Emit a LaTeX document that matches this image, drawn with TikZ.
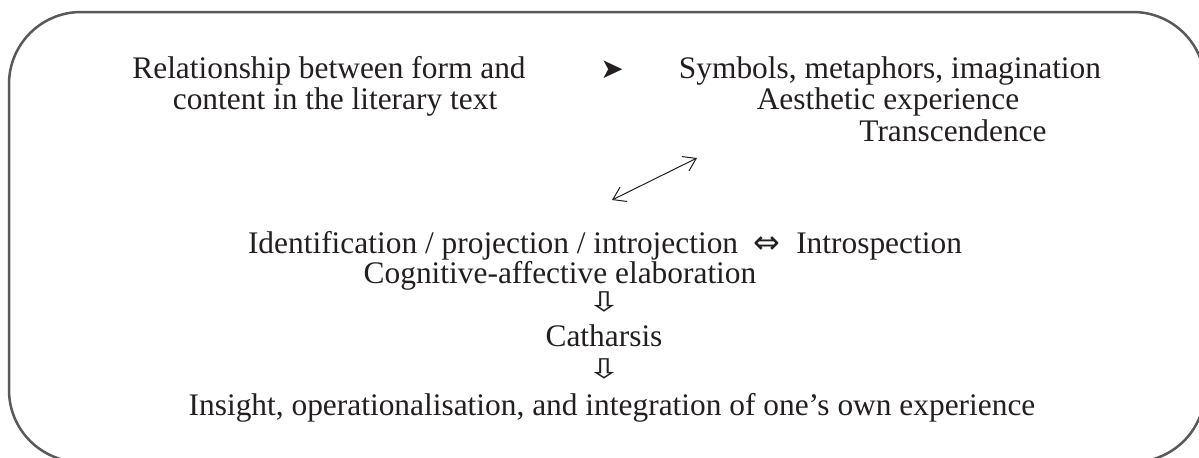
\documentclass[tikz,border=0pt]{standalone}
\usepackage{graphicx}
\usepackage{fontspec}
\setmainfont{Liberation Serif}
\newfontfamily\symfont{DejaVu Sans}
\usetikzlibrary{arrows.meta}
\definecolor{ink}{HTML}{231F20}
\definecolor{framec}{HTML}{58595B}
\newcommand{\downwhite}{\scalebox{1.3}[0.85]{⇩}}
\begin{document}
\begin{tikzpicture}[x=0.5pt,y=-0.5pt,
  txt/.style={font=\fontsize{15.7}{18}\selectfont, text=ink, inner sep=0pt, anchor=base},
  symb/.style={font=\fontsize{16}{18}\selectfont\symfont, text=ink, inner sep=0pt, anchor=base},
  frame/.style={draw=framec, line width=1.25pt, rounded corners=36pt},
  link/.style={draw=ink, line width=0.5pt, {Straight Barb[length=6pt,width=8pt]}-{Straight Barb[length=6pt,width=8pt]}}]
\useasboundingbox (0,0) rectangle (1199,457);
\clip (0,0) rectangle (1199,457);
\draw[frame] (9,12) rectangle (1205,462);
\node[txt] (rel1) at (329,78) {Relationship between form and};
\node[txt] (rel2) at (335,109) {content in the literary text};
\node[txt, font=\fontsize{14}{16}\selectfont\symfont] (head) at (612,78) {➤};
\node[txt] (sym) at (890,78) {Symbols, metaphors, imagination};
\node[txt] (aes) at (888,109) {Aesthetic experience};
\node[txt] (tra) at (953,141) {Transcendence};
\coordinate (a1) at (612,200);
\coordinate (a2) at (697,158);
\draw[link] (a1) -- (a2);
\node[txt] (ide) at (605,253) {Identification / projection / introjection\ \ {\symfont\fontsize{16}{18}\selectfont ⇔}\ \ Introspection};
\node[txt] (cog) at (560,283) {Cognitive-affective elaboration};
\node[symb] (d1) at (604,311) {\downwhite};
\node[txt] (cat) at (604,346) {Catharsis};
\node[symb] (d2) at (604,378) {\downwhite};
\node[txt] (ins) at (612,415) {Insight, operationalisation, and integration of one’s own experience};
\end{tikzpicture}
\end{document}
